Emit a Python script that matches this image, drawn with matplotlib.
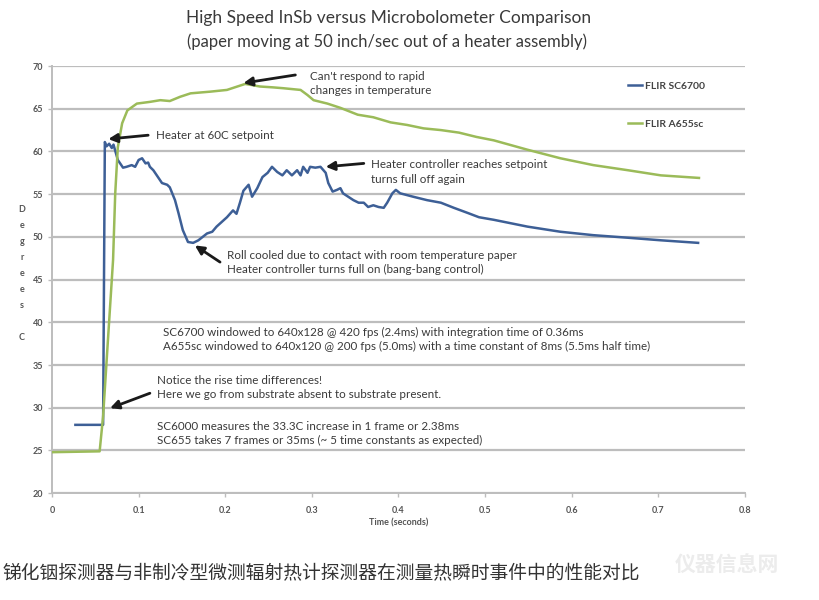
import matplotlib.pyplot as plt

"""High speed InSb vs microbolometer step response, redrawn from an Excel chart"""

# FLIR SC6700 (InSb) readings, time in seconds, temperature in degrees C
sc6700_time = [0.027, 0.059, 0.061, 0.063, 0.066, 0.069, 0.071, 0.076, 0.082,
               0.086, 0.092, 0.096, 0.100, 0.104, 0.108, 0.111, 0.113, 0.117,
               0.121, 0.127, 0.133, 0.136, 0.142, 0.146, 0.151, 0.157, 0.163,
               0.169, 0.179, 0.185, 0.190, 0.202, 0.209, 0.213, 0.217, 0.221,
               0.227, 0.231, 0.237, 0.243, 0.249, 0.254, 0.260, 0.266, 0.271,
               0.277, 0.283, 0.287, 0.290, 0.295, 0.298, 0.304, 0.310, 0.316,
               0.319, 0.324, 0.329, 0.333, 0.336, 0.342, 0.348, 0.354, 0.360,
               0.365, 0.371, 0.377, 0.383, 0.387, 0.393, 0.397, 0.402, 0.417,
               0.433, 0.449, 0.464, 0.480, 0.493, 0.510, 0.549, 0.587, 0.625,
               0.665, 0.703, 0.746]
sc6700_temp = [28.0, 28.0, 61.1, 60.6, 60.9, 60.4, 60.8, 59.0, 58.1,
               58.2, 58.4, 58.2, 59.0, 59.2, 58.6, 58.7, 58.2, 57.8,
               57.2, 56.3, 56.1, 55.8, 54.3, 52.8, 50.8, 49.4, 49.3,
               49.6, 50.4, 50.6, 51.2, 52.3, 53.1, 52.7, 54.0, 55.4,
               56.1, 54.7, 55.7, 57.0, 57.5, 58.2, 57.6, 57.2, 57.8,
               57.2, 57.8, 57.2, 58.2, 57.5, 58.2, 58.1, 58.2, 57.5,
               56.3, 55.3, 55.5, 55.7, 55.1, 54.7, 54.3, 54.0, 54.0,
               53.5, 53.7, 53.5, 53.4, 54.0, 55.1, 55.5, 55.1, 54.7,
               54.3, 54.0, 53.4, 52.8, 52.3, 52.0, 51.2, 50.6, 50.2,
               49.9, 49.6, 49.3]

# FLIR A655sc (microbolometer) readings
a655_time = [0.000, 0.055, 0.059, 0.064, 0.0705, 0.073, 0.076, 0.081, 0.087,
             0.098, 0.113, 0.125, 0.136, 0.148, 0.160, 0.183, 0.202, 0.217,
             0.223, 0.229, 0.240, 0.255, 0.267, 0.287, 0.295, 0.302, 0.318,
             0.333, 0.353, 0.371, 0.391, 0.410, 0.429, 0.449, 0.470, 0.490,
             0.510, 0.549, 0.587, 0.625, 0.665, 0.703, 0.747]
a655_temp = [24.8, 24.9, 29.0, 37.0, 47.3, 55.1, 60.5, 63.3, 64.8,
             65.6, 65.8, 66.0, 65.9, 66.4, 66.8, 67.0, 67.2, 67.7,
             67.9, 67.8, 67.6, 67.5, 67.4, 67.2, 66.6, 66.0, 65.6,
             65.1, 64.3, 64.0, 63.4, 63.1, 62.7, 62.5, 62.2, 61.7,
             61.3, 60.2, 59.2, 58.4, 57.8, 57.2, 56.9]

x_ticks = [0, 0.1, 0.2, 0.3, 0.4, 0.5, 0.6, 0.7, 0.8]
x_tick_labels = ["0", "0.1", "0.2", "0.3", "0.4", "0.5", "0.6", "0.7", "0.8"]
y_ticks = [20, 25, 30, 35, 40, 45, 50, 55, 60, 65, 70]

# (text, text position, arrow start, arrow tip), arrows may be None
notes = [
    ("Can't respond to rapid\nchanges in temperature", (0.298, 67.95),
     (0.281, 68.95), (0.221, 68.0)),
    ("Heater at 60C setpoint", (0.120, 61.9), (0.111, 61.9), (0.065, 61.45)),
    ("Heater controller reaches setpoint\nturns full off again", (0.368, 57.6),
     (0.360, 58.6), (0.316, 58.2)),
    ("Roll cooled due to contact with room temperature paper\n"
     "Heater controller turns full on (bang-bang control)", (0.202, 47.0),
     (0.194, 47.05), (0.165, 49.0)),
    ("SC6700 windowed to 640x128 @ 420 fps (2.4ms) with integration time of 0.36ms\n"
     "A655sc windowed to 640x120 @ 200 fps (5.0ms) with a time constant of 8ms (5.5ms half time)",
     (0.128, 38.0), None, None),
    ("Notice the rise time differences!\n"
     "Here we go from substrate absent to substrate present.", (0.121, 32.35),
     (0.113, 31.7), (0.067, 29.95)),
    ("SC6000 measures the 33.3C increase in 1 frame or 2.38ms\n"
     "SC655 takes 7 frames or 35ms (~ 5 time constants as expected)", (0.121, 27.0),
     None, None),
]

font = "Lato"
grid_grey = "#bdbdbd"
text_grey = "#3a3a3a"

fig = plt.figure(figsize=(8.19, 6.0), dpi=100)
ax = fig.add_axes([0.0635, 0.178, 0.846, 0.712])

ax.plot(sc6700_time, sc6700_temp, color="#3d5f96", lw=1.8, label="FLIR SC6700", zorder=3)
ax.plot(a655_time, a655_temp, color="#9bbb59", lw=1.8, label="FLIR A655sc", zorder=3)

ax.set_xlim(0, 0.8)
ax.set_ylim(20, 70)
ax.set_yticks(y_ticks)
ax.set_xticks(x_ticks)
ax.set_xticklabels(x_tick_labels)
ax.yaxis.grid(True, color=grid_grey, lw=1.6)
ax.set_axisbelow(True)
for side in ["top", "right"]:
    ax.spines[side].set_visible(False)
for side in ["left", "bottom"]:
    ax.spines[side].set_color(grid_grey)
    ax.spines[side].set_linewidth(1.4)
ax.tick_params(axis="both", colors=grid_grey, length=3, width=1)
ax.tick_params(axis="x", pad=6)
for lbl in ax.get_xticklabels() + ax.get_yticklabels():
    lbl.set_color("#555555")
    lbl.set_fontsize(6.5)
    lbl.set_fontfamily(font)
    lbl.set_fontweight("bold")

ax.set_xlabel("Time (seconds)", fontsize=6.5, color="#555555", family=font,
              fontweight="bold", labelpad=3)
fig.text(0.027, 0.545, "D\ne\ng\nr\ne\ne\ns\n\nC", ha="center", va="center",
         fontsize=6.5, color="#555555", family=font, fontweight="bold",
         linespacing=2.0)

for text, pos, start, tip in notes:
    ax.text(pos[0], pos[1], text, fontsize=8.4, color=text_grey, family=font,
            va="center", ha="left", linespacing=1.4)
    if tip is not None:
        ax.annotate("", xy=tip, xytext=start,
                    arrowprops=dict(arrowstyle="-|>", color="#1a1a1a", lw=2.0,
                                    mutation_scale=13, shrinkA=0, shrinkB=0))

leg = ax.legend(loc="upper left", bbox_to_anchor=(0.818, 0.985), frameon=False,
                handlelength=1.3, handletextpad=0.3, labelspacing=2.75,
                prop={"family": font, "size": 7.5, "weight": "bold"})
for t in leg.get_texts():
    t.set_color("#444444")

fig.text(0.474, 0.97, "High Speed InSb versus Microbolometer Comparison",
         ha="center", va="center", fontsize=12.5, color="#3a3a3a", family=font)
fig.text(0.472, 0.93, "(paper moving at 50 inch/sec out of a heater assembly)",
         ha="center", va="center", fontsize=12.0, color="#3a3a3a", family=font)

fig.text(0.003, 0.045, "锑化铟探测器与非制冷型微测辐射热计探测器在测量热瞬时事件中的性能对比",
         ha="left", va="center", fontsize=13.5, color="#333333",
         family=["Noto Sans CJK SC", "DejaVu Sans"])
fig.text(0.888, 0.058, "仪器信息网", ha="center", va="center", fontsize=15,
         color="#ececec", family=["Noto Sans CJK SC", "DejaVu Sans"], fontweight="bold")

fig.savefig("out.png", dpi=100)
